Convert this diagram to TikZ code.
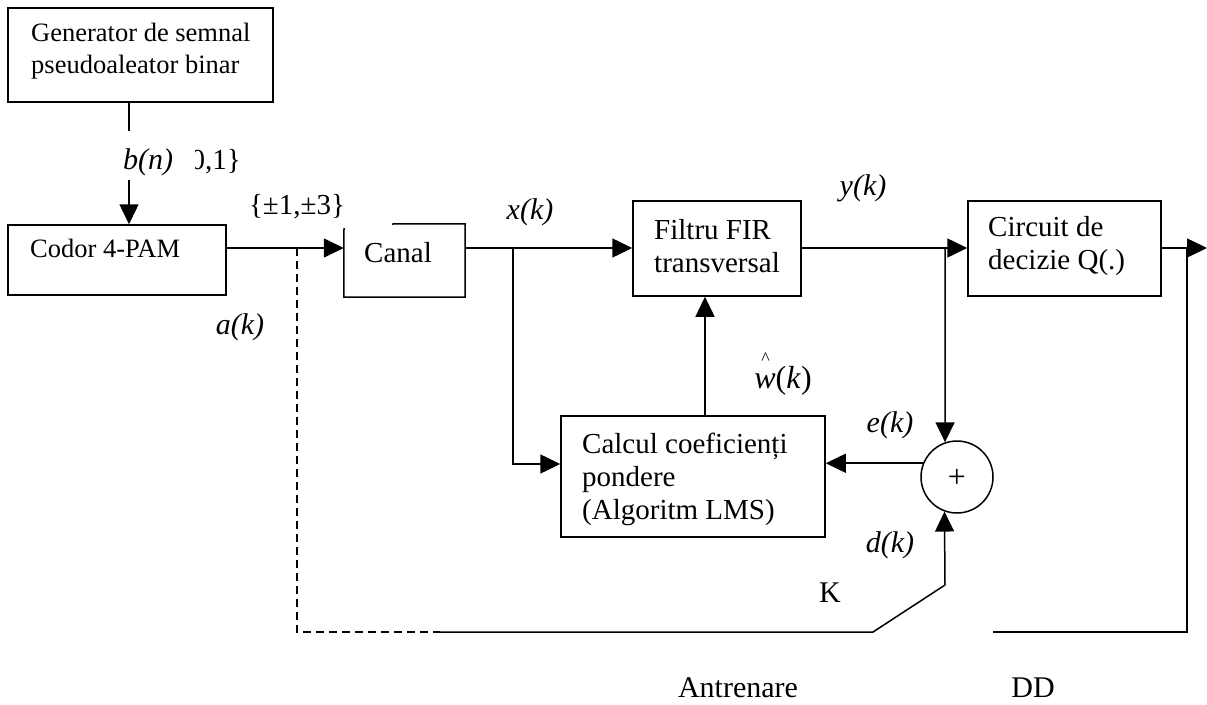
\documentclass[tikz,border=0pt]{standalone}
\usepackage{fontspec}
\setmainfont{Liberation Serif}
\usetikzlibrary{arrows.meta,calc}
\begin{document}
\begin{tikzpicture}[x=1pt,y=-1pt,
  ln/.style={line width=1.5pt},
  arr/.style={ln,-{Triangle[length=20pt,width=19pt]}},
  box/.style={draw,line width=1.5pt,rectangle,inner sep=0pt},
  txt/.style={font=\fontsize{29}{33}\selectfont,align=left,inner sep=0pt},
  stxt/.style={font=\fontsize{26.5}{32}\selectfont,align=left,inner sep=0pt},
  lbl/.style={font=\fontsize{30}{34}\selectfont\itshape,inner sep=0pt},
  rlbl/.style={font=\fontsize{30}{34}\selectfont,inner sep=0pt},
]
\useasboundingbox (0,0) rectangle (1207,704);

% boxes
\node[box,minimum width=265pt,minimum height=94pt] (gen) at (140.5,55) {};
\node[stxt,anchor=west] (genT) at (31,51.5) {Generator de semnal\\pseudoaleator binar};
\node[box,minimum width=218pt,minimum height=70pt] (codor) at (117,260) {};
\node[stxt,anchor=west] (codorT) at (30,248) {Codor 4-PAM};
\node[minimum width=121pt,minimum height=73pt,inner sep=0pt] (canal) at (404.5,260.5) {};
\draw[ln] (392,224) -- (canal.north east) -- (canal.south east) -- (canal.south west) -- (344,228);
\node[txt] (canalT) at (398,253) {Canal};
\node[box,minimum width=168pt,minimum height=95pt] (filtru) at (717,248.5) {};
\node[txt,anchor=west] (filtruT) at (654,246) {Filtru FIR\\transversal};
\node[box,minimum width=193pt,minimum height=95pt] (circ) at (1064.5,248.5) {};
\node[txt,anchor=west] (circT) at (988,246) {Circuit de\\decizie Q(.)};
\node[box,minimum width=264pt,minimum height=121pt] (calc) at (693,476.5) {};
\node[txt,anchor=west] (calcT) at (582,479) {Calcul coeficienți\\pondere\\(Algoritm LMS)};
\node[draw,circle,line width=1.5pt,minimum size=72pt,inner sep=0pt] (sum) at (957,477) {};
\node[font=\fontsize{32}{32}\selectfont,inner sep=0pt] (plus) at (957,478) {+};

% coordinates
\coordinate (g1) at (129,131);
\coordinate (b1) at (129,180);
\coordinate (ja) at (297,248);
\coordinate (jx) at (513,248);
\coordinate (jxd) at (513,464);
\coordinate (wv) at (705,0);
\coordinate (jy) at (945,248);
\coordinate (out) at (1207,248);
\coordinate (dd1) at (1187,248);
\coordinate (dd2) at (1187,632);
\coordinate (dd3) at (993,632);
\coordinate (t1) at (297,632);
\coordinate (t2) at (440,632);
\coordinate (t3) at (873,632);
\coordinate (t4) at (945,585);

% connectors
\draw[ln] (gen.south -| g1) -- (g1);
\draw[arr] (b1) -- (codor.north -| b1);
\draw[arr] (codor.east |- ja) -- (canal.west |- ja);
\draw[arr] (canal.east |- jx) -- (filtru.west |- jx);
\draw[arr] (jx) -- (jxd) -- (calc.west |- jxd);
\draw[arr] (calc.north -| wv) -- (filtru.south -| wv);
\draw[arr] (filtru.east |- jy) -- (circ.west |- jy);
\draw[arr] (jy) -- (sum.109.5);
\draw[arr] (sum.158.8) -- (calc.east |- sum.158.8);
\draw[arr] (circ.east |- out) -- (out);
\draw[ln] (dd1) -- (dd2) -- (dd3);
\draw[ln,dash pattern=on 8pt off 5pt] (ja) -- (t1) -- (t2);
\draw[ln] (t2) -- (t3) -- (t4);
\draw[arr] (t4) -- (sum.250.5);

% labels
\node[lbl] (bn) at (148,162) {b(n)};
\begin{scope}
\clip (195,140) rectangle (260,185);
\node[txt,anchor=east] (set01) at (241,162) {\{0,1\}};
\end{scope}
\node[txt] (set4) at (297,207) {\{±1,±3\}};
\node[lbl] (ak) at (240,327) {a(k)};
\node[lbl] (xk) at (530,212) {x(k)};
\node[lbl] (yk) at (863,188) {y(k)};
\node[lbl] (ek) at (890,425) {e(k)};
\node[lbl] (dk) at (890,545) {d(k)};
\node[rlbl] (K) at (830,593) {K};
\node[rlbl] (antr) at (738,688) {Antrenare};
\node[rlbl] (DD) at (1033,688) {DD};
\node[font=\fontsize{32}{34}\selectfont,inner sep=0pt,anchor=base] (wk) at (783,388) {\makebox[0pt][l]{\raisebox{0.72em}{\kern0.22em\fontsize{18}{18}\selectfont\textasciicircum}}\textit{w}(\textit{k})};
\end{tikzpicture}
\end{document}
